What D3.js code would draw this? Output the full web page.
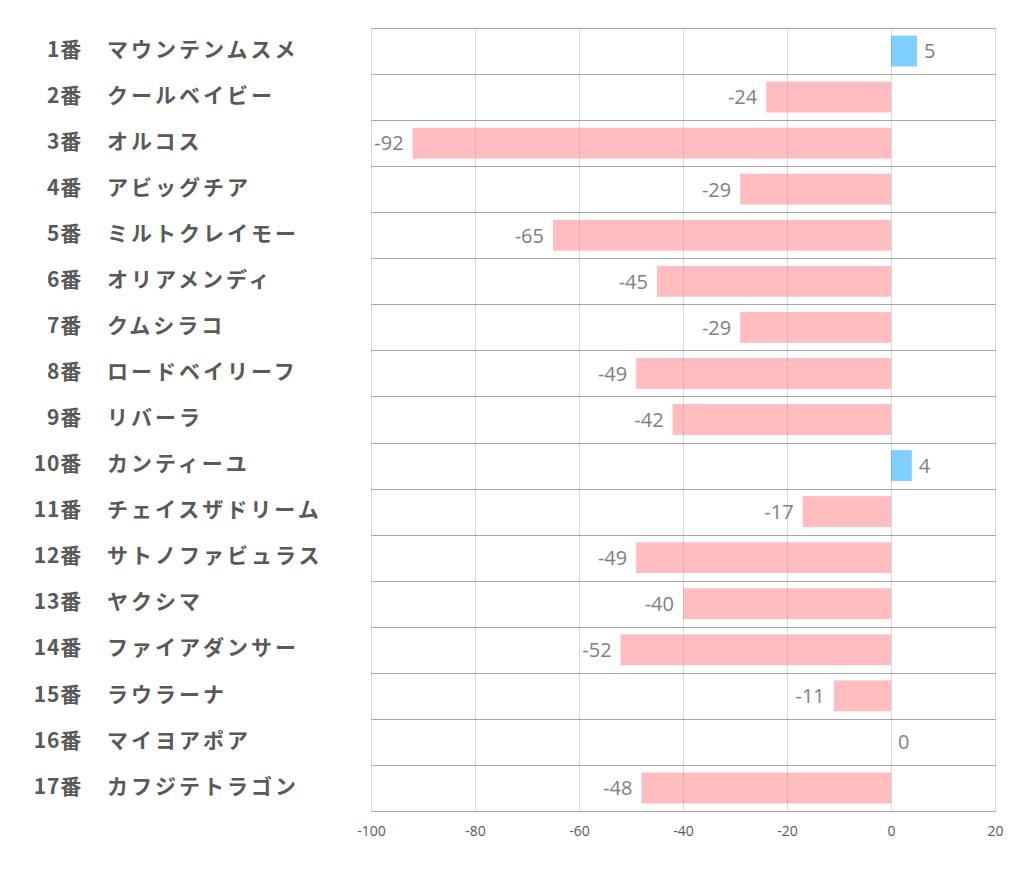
<!DOCTYPE html>
<html><head><meta charset="utf-8">
<script src="https://cdn.jsdelivr.net/npm/d3@7"></script>
<style>body{margin:0;background:#fff}</style>
</head><body>
<svg id="c" width="1022" height="887"></svg>
<script>
const numbers = ["1番","2番","3番","4番","5番","6番","7番","8番","9番","10番","11番","12番","13番","14番","15番","16番","17番"];
const names = ["マウンテンムスメ","クールベイビー","オルコス","アビッグチア","ミルトクレイモー","オリアメンディ","クムシラコ","ロードベイリーフ","リバーラ","カンティーユ","チェイスザドリーム","サトノファビュラス","ヤクシマ","ファイアダンサー","ラウラーナ","マイヨアポア","カフジテトラゴン"];
const values = [5,-24,-92,-29,-65,-45,-29,-49,-42,4,-17,-49,-40,-52,-11,0,-48];
const xTicks = [-100,-80,-60,-40,-20,0,20];

const svg = d3.select("#c");
const L = 371, R = 995, T = 28, B = 811;
const x = d3.scaleLinear().domain([-100,20]).range([L,R]);
const y = d3.scaleBand().domain(d3.range(values.length)).range([T,B]).paddingInner(0.33).paddingOuter(0.165);
const rowY = d3.scaleBand().domain(d3.range(values.length)).range([T,B]);

// vertical gridlines
svg.append("g").selectAll("line").data(xTicks).join("line")
  .attr("x1",d=>x(d)+0.5).attr("x2",d=>x(d)+0.5).attr("y1",T).attr("y2",B)
  .attr("stroke","#d9d9d9").attr("stroke-width",1);

// horizontal row lines
const bounds = d3.range(values.length+1).map(i => i < values.length ? rowY(i) : B);
svg.append("g").selectAll("line").data(bounds).join("line")
  .attr("x1",L).attr("x2",R+1).attr("y1",d=>Math.round(d)+0.5).attr("y2",d=>Math.round(d)+0.5)
  .attr("stroke","#a6a6a6").attr("stroke-width",1);

// bars
svg.append("g").selectAll("rect").data(values).join("rect")
  .attr("x",d=>x(Math.min(0,d))).attr("width",d=>Math.abs(x(d)-x(0)))
  .attr("y",(d,i)=>y(i)).attr("height",y.bandwidth())
  .attr("fill",d=>d>=0?"#00a0ff":"#ff7b80").attr("fill-opacity",0.5);

// value labels
svg.append("g").selectAll("text").data(values).join("text")
  .attr("x",d=>d<0 ? x(d)-9 : x(d)+7)
  .attr("y",(d,i)=>rowY(i)+rowY.bandwidth()/2+2)
  .attr("dominant-baseline","middle")
  .attr("text-anchor",d=>d<0?"end":"start")
  .attr("font-family","'Open Sans','Noto Sans',sans-serif").attr("font-size",20)
  .attr("fill","#808080").text(d=>d);

// category labels
const lab = svg.append("g").attr("font-family","'Noto Sans CJK JP',sans-serif").attr("font-weight","bold").attr("font-size",21).attr("fill","#595959");
lab.selectAll("text.n").data(numbers).join("text").attr("class","n")
  .attr("x",82).attr("y",(d,i)=>rowY(i)+rowY.bandwidth()/2)
  .attr("letter-spacing",0.8)
  .attr("dominant-baseline","middle").attr("text-anchor","end").text(d=>d);
lab.selectAll("text.m").data(names).join("text").attr("class","m")
  .attr("x",107).attr("y",(d,i)=>rowY(i)+rowY.bandwidth()/2)
  .attr("letter-spacing",3)
  .attr("dominant-baseline","middle").attr("text-anchor","start").text(d=>d);

// x axis
const ax = svg.append("g").attr("transform",`translate(0,${B})`)
  .call(d3.axisBottom(x).tickValues(xTicks).tickSize(0).tickPadding(15).tickFormat(d=>String(d)));
ax.select(".domain").remove();
ax.selectAll("text").attr("font-family","'Open Sans','Noto Sans',sans-serif").attr("font-size",14).attr("fill","#595959");
</script>
</body></html>
